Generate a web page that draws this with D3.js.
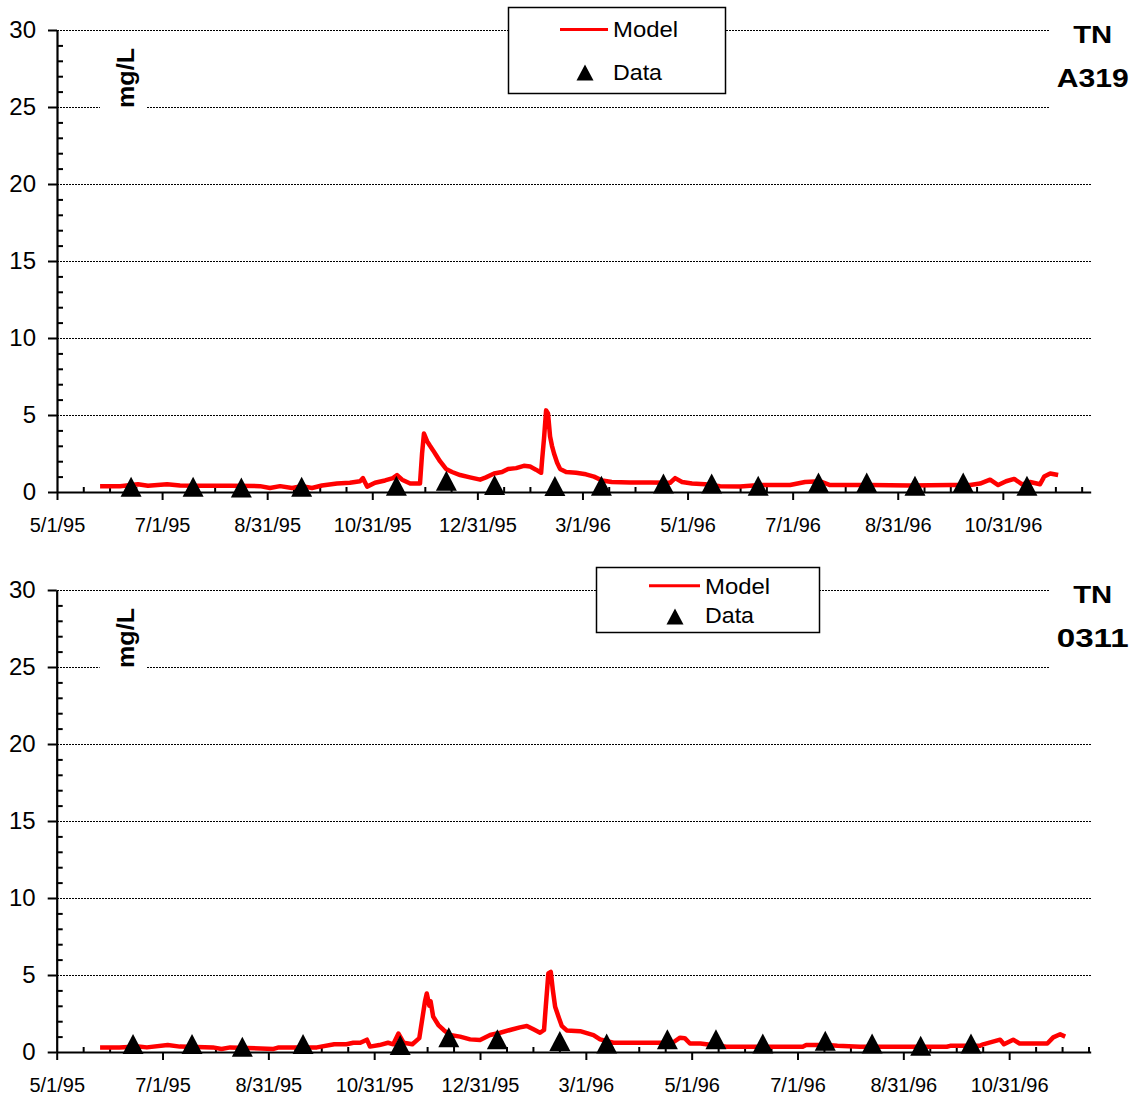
<!DOCTYPE html>
<html>
<head>
<meta charset="utf-8">
<script src="https://cdn.jsdelivr.net/npm/d3@7"></script>
<style>
  html, body { margin: 0; padding: 0; background: #fff; }
  svg { display: block; font-family: "Liberation Sans", Arial, Helvetica, sans-serif; }
</style>
</head>
<body>
<svg id="chart" width="1136" height="1097"></svg>
<script>
// ---------- data ----------
const xTickDays = [0, 61, 122, 183, 244, 305, 366, 427, 488, 549];   // days since 5/1/95
const xTickLabels = ["5/1/95", "7/1/95", "8/31/95", "10/31/95", "12/31/95", "3/1/96", "5/1/96", "7/1/96", "8/31/96", "10/31/96"];
const yTicks = [0, 5, 10, 15, 20, 25, 30];

// Station A319
const a319ModelDays = [25, 36.6, 47, 52.8, 63.9, 71.4, 83, 100.4, 117.8, 123.6, 129.5, 136.4, 142.2, 148, 153.8, 162.5, 170, 175.9, 177.6, 180, 184.6, 190.4, 195, 197.4, 200.3, 205, 210.7, 211.9, 213, 214.8, 216.5, 218.3, 220, 222.3, 225.8, 229.3, 234, 239.7, 245.6, 249, 253.7, 258.3, 261.8, 266.5, 271, 274.6, 278, 281, 281.6, 282.7, 283.9, 285, 286.2, 287.3, 288.5, 290.3, 292, 295.5, 301.3, 307, 311.7, 316.4, 322, 332.6, 344.2, 355.9, 358.8, 362.8, 368.6, 376.2, 384.9, 396.5, 408.1, 425.5, 434.2, 443, 448.7, 472, 495.2, 518.4, 530, 535.8, 541.6, 546.3, 550.9, 555.6, 560.2, 564.8, 570.6, 573, 576.5, 581.1];
const a319ModelValues = [0.38, 0.38, 0.5, 0.4, 0.5, 0.42, 0.4, 0.4, 0.38, 0.26, 0.38, 0.26, 0.38, 0.26, 0.42, 0.55, 0.6, 0.7, 0.9, 0.35, 0.6, 0.75, 0.9, 1.1, 0.8, 0.55, 0.55, 2.5, 3.8, 3.3, 3.0, 2.7, 2.4, 2.0, 1.5, 1.3, 1.1, 0.95, 0.8, 0.95, 1.2, 1.3, 1.5, 1.55, 1.7, 1.65, 1.45, 1.25, 2.1, 3.5, 5.3, 5.1, 3.6, 3.0, 2.5, 1.9, 1.5, 1.3, 1.25, 1.15, 1.0, 0.75, 0.65, 0.62, 0.62, 0.6, 0.9, 0.65, 0.55, 0.5, 0.38, 0.35, 0.45, 0.45, 0.65, 0.7, 0.45, 0.45, 0.42, 0.45, 0.45, 0.55, 0.8, 0.45, 0.7, 0.85, 0.5, 0.65, 0.5, 1.0, 1.2, 1.1];
const a319DataDays = [43, 79, 107, 142, 197, 226, 254, 289, 316, 352, 380, 407, 442, 470, 498, 526, 563];
const a319DataValues = [0.34, 0.34, 0.3, 0.34, 0.41, 0.73, 0.45, 0.39, 0.41, 0.56, 0.56, 0.41, 0.61, 0.61, 0.41, 0.61, 0.41];

// Station 0311
const s0311ModelDays = [25, 36, 47, 52, 64, 71, 90, 95, 100, 125, 128, 150, 160, 167, 171, 175, 178.8, 180.6, 186, 191, 194, 197, 200, 205, 209, 212.3, 213.3, 214.8, 215.5, 217, 220, 223, 226.7, 232.5, 238.3, 244, 249.8, 255.6, 261.3, 267, 271, 274.8, 278.6, 280.9, 281.9, 283.4, 284.8, 286, 287.3, 289.2, 291.1, 294, 301.7, 309.4, 313.2, 320.9, 340, 355, 359.3, 362, 365, 371, 386, 430, 432, 444, 450, 463, 513, 515, 532, 534, 543.8, 546, 551.3, 555, 571, 574.4, 578.4, 581.3];
const s0311ModelValues = [0.3, 0.3, 0.35, 0.3, 0.45, 0.35, 0.3, 0.2, 0.3, 0.2, 0.3, 0.3, 0.5, 0.5, 0.6, 0.6, 0.8, 0.35, 0.45, 0.6, 0.5, 1.2, 0.6, 0.5, 0.9, 3.3, 3.8, 3.0, 3.3, 2.3, 1.75, 1.43, 1.1, 1.0, 0.82, 0.78, 1.1, 1.25, 1.43, 1.6, 1.69, 1.47, 1.25, 1.43, 2.94, 5.1, 5.2, 4.0, 2.94, 2.3, 1.7, 1.4, 1.35, 1.1, 0.82, 0.6, 0.6, 0.6, 0.93, 0.9, 0.55, 0.55, 0.34, 0.34, 0.45, 0.45, 0.4, 0.34, 0.34, 0.4, 0.4, 0.5, 0.8, 0.5, 0.8, 0.55, 0.55, 0.95, 1.15, 1.0];
const s0311DataDays = [44, 78, 107, 142, 198, 226, 254, 290, 317, 352, 380, 407, 443, 470, 498, 527];
const s0311DataValues = [0.52, 0.52, 0.34, 0.52, 0.45, 0.95, 0.82, 0.71, 0.56, 0.82, 0.82, 0.56, 0.73, 0.56, 0.41, 0.56];

// ---------- drawing ----------
const svg = d3.select("#chart");
const FONT = '"Liberation Sans", Arial, Helvetica, sans-serif';

// bbox-centred triangle (Excel-style marker)
function triPath(w, h) {
  return `M0,${-h / 2}L${w / 2},${h / 2}L${-w / 2},${h / 2}Z`;
}

function drawPanel(cfg) {
  const g = svg.append("g");
  const x = d3.scaleLinear().domain([0, cfg.xMax]).range([cfg.left, cfg.right]);
  const y = d3.scaleLinear().domain([0, 30]).range([cfg.bottom, cfg.top]);

  // gridlines (dotted)
  g.append("g").selectAll("line").data(yTicks.filter(d => d > 0)).join("line")
    .attr("x1", cfg.left).attr("x2", cfg.right)
    .attr("y1", d => Math.round(y(d)) + 0.5).attr("y2", d => Math.round(y(d)) + 0.5)
    .attr("stroke", "#000").attr("stroke-width", 1)
    .attr("stroke-dasharray", "2,1").attr("shape-rendering", "crispEdges");

  // white patch behind unit label
  g.append("rect").attr("x", cfg.left + 43).attr("y", y(25) - 65)
    .attr("width", 47).attr("height", 75).attr("fill", "#fff");
  g.append("text")
    .attr("transform", `translate(${cfg.left + 77},${y(25) - 29}) rotate(-90)`)
    .attr("text-anchor", "middle")
    .attr("font-family", FONT).attr("font-weight", "bold").attr("font-size", 23)
    .attr("textLength", 60).attr("lengthAdjust", "spacingAndGlyphs")
    .text("mg/L");

  // white patch behind station title
  g.append("rect").attr("x", cfg.right - 41).attr("y", y(30) - 12)
    .attr("width", 100).attr("height", 92).attr("fill", "#fff");
  const tx = cfg.right + 2;
  g.append("text").attr("x", tx).attr("y", y(30) + cfg.t1)
    .attr("text-anchor", "middle").attr("font-family", FONT)
    .attr("font-weight", "bold").attr("font-size", 24)
    .attr("textLength", 39).attr("lengthAdjust", "spacingAndGlyphs")
    .text(cfg.title[0]);
  g.append("text").attr("x", tx).attr("y", y(30) + cfg.t2)
    .attr("text-anchor", "middle").attr("font-family", FONT)
    .attr("font-weight", "bold").attr("font-size", 25)
    .attr("textLength", 72).attr("lengthAdjust", "spacingAndGlyphs")
    .text(cfg.title[1]);

  // y axis: major ticks outside, minor inside
  const yMinor = d3.range(0, 31, 1).filter(v => v % 5 !== 0);
  g.append("g").attr("transform", `translate(${cfg.left},0)`)
    .call(d3.axisLeft(y).tickValues(yMinor).tickSize(-6).tickFormat(""))
    .call(a => a.select(".domain").remove())
    .call(a => a.selectAll("line").attr("stroke-width", 2));
  const yAx = g.append("g").attr("transform", `translate(${cfg.left},0)`)
    .call(d3.axisLeft(y).tickValues(yTicks).tickSizeInner(9).tickSizeOuter(0).tickPadding(12));
  yAx.select(".domain").attr("stroke-width", 2.2);
  yAx.selectAll("line").attr("stroke-width", 2);
  yAx.selectAll("text").attr("font-family", FONT).attr("font-size", 24).attr("fill", "#000");

  // x axis
  const xMinor = d3.range(0, cfg.xMax + 0.01, 15.25).filter((v, i) => i % 4 !== 0);
  g.append("g").attr("transform", `translate(0,${cfg.bottom})`)
    .call(d3.axisBottom(x).tickValues(xMinor).tickSize(-5).tickFormat(""))
    .call(a => a.select(".domain").remove())
    .call(a => a.selectAll("line").attr("stroke-width", 2));
  const xAx = g.append("g").attr("transform", `translate(0,${cfg.bottom})`)
    .call(d3.axisBottom(x).tickValues(xTickDays).tickSizeInner(8).tickSizeOuter(0)
      .tickFormat((d, i) => xTickLabels[i]));
  xAx.select(".domain").attr("stroke-width", 2.2);
  xAx.selectAll("line").attr("stroke-width", 2);
  xAx.selectAll("text").attr("font-family", FONT).attr("font-size", 20).attr("fill", "#000")
    .attr("y", 26).attr("dy", "0.71em");

  // model line
  const pts = cfg.modelDays.map((d, i) => [d, cfg.modelValues[i]]);
  g.append("path").datum(pts)
    .attr("fill", "none").attr("stroke", "#ff0000").attr("stroke-width", 4.5)
    .attr("stroke-linejoin", "round")
    .attr("d", d3.line().x(d => x(d[0])).y(d => y(d[1])));

  // data markers
  g.append("g").selectAll("path").data(cfg.dataDays.map((d, i) => [d, cfg.dataValues[i]])).join("path")
    .attr("transform", d => `translate(${x(d[0])},${y(d[1])})`)
    .attr("d", triPath(21, 20)).attr("fill", "#000");

  // legend
  const L = cfg.legend;
  g.append("rect").attr("x", L.x).attr("y", L.y).attr("width", L.w).attr("height", L.h)
    .attr("fill", "#fff").attr("stroke", "#000").attr("stroke-width", 1.5);
  g.append("line").attr("x1", L.lx1).attr("x2", L.lx2).attr("y1", L.ly).attr("y2", L.ly)
    .attr("stroke", "#ff0000").attr("stroke-width", 3);
  g.append("text").attr("x", L.tx).attr("y", L.ty1).attr("font-family", FONT).attr("font-size", 22)
    .attr("textLength", 65).attr("lengthAdjust", "spacingAndGlyphs").text("Model");
  g.append("path").attr("transform", `translate(${L.mx},${L.my})`).attr("d", triPath(17, 16)).attr("fill", "#000");
  g.append("text").attr("x", L.tx).attr("y", L.ty2).attr("font-family", FONT).attr("font-size", 22)
    .attr("textLength", 49).attr("lengthAdjust", "spacingAndGlyphs").text("Data");
}

drawPanel({
  left: 57, right: 1090.7, top: 30, bottom: 492, xMax: 600,
  title: ["TN", "A319"], t1: 13, t2: 57,
  modelDays: a319ModelDays, modelValues: a319ModelValues,
  dataDays: a319DataDays, dataValues: a319DataValues,
  legend: { x: 508.5, y: 7.5, w: 217, h: 86, lx1: 560, lx2: 608, ly: 29.5, tx: 613, ty1: 37, ty2: 80, mx: 585, my: 72.5 }
});

drawPanel({
  left: 56.7, right: 1090.7, top: 590, bottom: 1052, xMax: 596,
  title: ["TN", "0311"], t1: 13, t2: 57,
  modelDays: s0311ModelDays, modelValues: s0311ModelValues,
  dataDays: s0311DataDays, dataValues: s0311DataValues,
  legend: { x: 596.5, y: 567.5, w: 223, h: 65, lx1: 649, lx2: 700, ly: 585.7, tx: 705, ty1: 594, ty2: 623, mx: 675, my: 616.5 }
});
</script>
</body>
</html>
